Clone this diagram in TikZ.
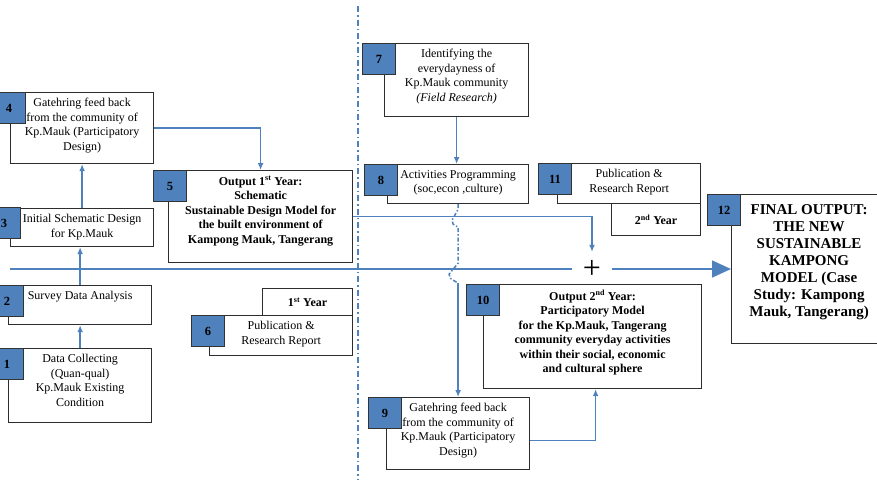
\documentclass[tikz,border=0pt]{standalone}
\usepackage{fontspec}
\setmainfont{Liberation Serif}
\usetikzlibrary{positioning,arrows.meta}
\definecolor{lineblue}{RGB}{79,129,189}
\definecolor{boxedge}{RGB}{45,45,45}
\tikzset{
  box/.style={draw=boxedge,line width=1.2pt,anchor=north west,inner sep=0pt},
  num/.style={draw=black!80,fill=lineblue,line width=1pt,anchor=north west,minimum width=33pt,minimum height=31pt,inner sep=0pt,font=\bfseries\fontsize{12.5}{14}\selectfont},
  txt/.style={align=center,inner sep=0pt,font=\fontsize{12}{14.5}\selectfont},
  btxt/.style={txt,font=\bfseries\fontsize{12}{14.5}\selectfont},
  link/.style={draw=lineblue,line width=1.5pt},
  arr/.style={link,-{Latex[length=7pt,width=6pt]}},
  plus/.style={inner sep=0pt,minimum width=39pt,minimum height=34pt,font=\fontsize{32}{32}\selectfont},
}

\begin{document}
\begin{tikzpicture}[x=1pt,y=-1pt]
\useasboundingbox (0,0) rectangle (877,480);
\clip (0,0) rectangle (877,480);

\draw[lineblue,line width=1.4pt,dash pattern=on 6pt off 3pt on 1.5pt off 3pt] (358,6) -- (358,480);

\node[box,minimum width=143pt,minimum height=74pt] (b1) at (8,348) {};
\node[num] (n1) at (-10,348) {1};
\node[txt,below=6pt of b1.north] (t1) {Data Collecting\\(Quan-qual)\\Kp.Mauk Existing\\Condition};

\node[box,minimum width=143pt,minimum height=39pt] (b2) at (8,285) {};
\node[num] (n2) at (-10,285) {2};
\node[txt,below=6pt of b2.north] (t2) {Survey Data Analysis};

\node[box,minimum width=143pt,minimum height=38pt] (b3) at (10,208) {};
\node[num] (n3) at (-13,207) {3};
\node[txt,below=6pt of b3.north] (t3) {Initial Schematic Design\\for Kp.Mauk};

\node[box,minimum width=143pt,minimum height=71pt] (b4) at (10,92) {};
\node[num] (n4) at (-8,92) {4};
\node[txt,below=6pt of b4.north] (t4) {Gatehring feed back\\from the community of\\Kp.Mauk (Participatory\\Design)};

\node[box,minimum width=184pt,minimum height=92pt] (b5) at (168,170) {};
\node[num] (n5) at (153,170) {5};
\node[btxt,below=6pt of b5.north] (t5) {Output 1\textsuperscript{st} Year:\\Schematic\\Sustainable Design Model for\\the built environment of\\Kampong Mauk, Tangerang};

\node[box,minimum width=90pt,minimum height=27pt,font=\bfseries\fontsize{12}{13}\selectfont] (y1) at (262,288) {1\textsuperscript{st} Year};
\node[box,minimum width=143pt,minimum height=40pt] (b6) at (209,315) {};
\node[num] (n6) at (191,315) {6};
\node[txt,below=6pt of b6.north] (t6) {Publication \&\\Research Report};

\node[box,minimum width=144pt,minimum height=73pt] (b7) at (384,43) {};
\node[num] (n7) at (362,43) {7};
\node[txt,below=6pt of b7.north] (t7) {Identifying the\\everydayness of\\Kp.Mauk community\\\textit{(Field Research)}};

\node[box,minimum width=141pt,minimum height=39pt] (b8) at (387,164) {};
\node[num] (n8) at (364,164) {8};
\node[txt,below=6pt of b8.north] (t8) {Activities Programming\\(soc,econ ,culture)};

\node[box,minimum width=143pt,minimum height=72pt] (b9) at (386,397) {};
\node[num] (n9) at (368,397) {9};
\node[txt,below=6pt of b9.north] (t9) {Gatehring feed back\\from the community of\\Kp.Mauk (Participatory\\Design)};

\node[box,minimum width=218pt,minimum height=104pt] (b10) at (483,284) {};
\node[num] (n10) at (466,284) {10};
\node[btxt,below=6pt of b10.north] (t10) {Output 2\textsuperscript{nd} Year:\\Participatory Model\\for the Kp.Mauk, Tangerang\\community everyday activities\\within their social, economic\\and cultural sphere};

\node[box,minimum width=143pt,minimum height=40pt] (b11) at (557,163) {};
\node[num] (n11) at (538,163) {11};
\node[txt,below=6pt of b11.north] (t11) {Publication \&\\Research Report};
\node[box,minimum width=89pt,minimum height=32pt,font=\bfseries\fontsize{12}{13}\selectfont] (y2) at (611,203) {2\textsuperscript{nd} Year};

\node[box,minimum width=155pt,minimum height=149pt] (b12) at (731,194) {};
\node[num] (n12) at (707,194) {12};
\node[txt,font=\bfseries\fontsize{15}{17}\selectfont,below=10pt of b12.north] (t12) {FINAL OUTPUT:\\THE NEW\\SUSTAINABLE\\KAMPONG\\MODEL (Case\\Study: Kampong\\Mauk, Tangerang)};

\coordinate (start) at (10,269);
\node[plus] (plus) at (592,269) {+};

\draw[link] (start) -- (plus.west);
\draw[link,-{Triangle[length=19pt,width=17pt]}] (plus.east) -- (plus.east -| b12.west);
\draw[arr] (b1.north) -- (b1.north |- b2.south);
\draw[arr] (b2.north) -- (b2.north |- b3.south);
\draw[arr] (b3.north) -- (b3.north |- b4.south);
\draw[arr] (b4.east) -| (b5.north);
\draw[arr] (b5.east) -| (plus.north);
\draw[arr] (b7.south) -- (b7.south |- b8.north);
\draw[link,dash pattern=on 4pt off 2pt on 1.5pt off 2pt] (b8.south) -- ++(0,5) -- ++(-6,11) -- ++(1,4) -- ++(5,3) -- ++(0,36) -- ++(-9,11) -- ++(1,4) -- ++(8,5) coordinate (hop);
\draw[arr] (hop) -- (hop |- b9.north);
\draw[arr] ([yshift=-7pt]b9.east) -| ([xshift=3pt]b10.south);
\end{tikzpicture}
\end{document}
